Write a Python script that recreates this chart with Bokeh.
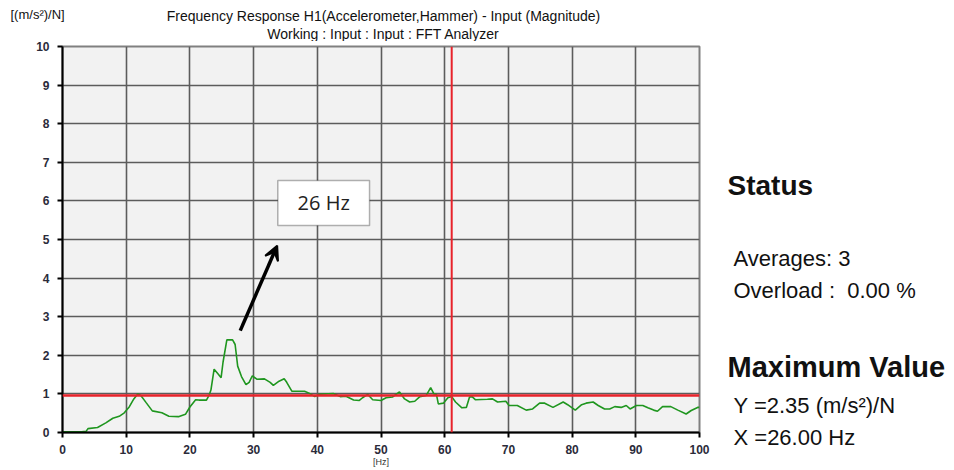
from bokeh.plotting import figure
from bokeh.layouts import column, row
from bokeh.models import Span, Label, Arrow, VeeHead, BoxAnnotation, FixedTicker, Range1d
from bokeh.embed import file_html
from bokeh.resources import INLINE

# ---------------- data ----------------
freq_hz = [0, 1, 2, 3, 3.7, 4.0, 5.5, 6.8, 7.9, 8.9, 9.7, 10.5, 11.2, 11.8, 12.3, 13.1, 14.1,
           15.6, 16.7, 18.2, 19.3, 20.0, 20.9, 21.4, 22.6, 23.0, 23.3, 23.8, 24.4, 24.9, 25.2,
           25.8, 26.7, 27.1, 27.5, 28.1, 28.8, 29.3, 29.8, 30.5, 31.7, 32.6, 33.1, 34.0, 34.8,
           35.2, 36.0, 38.0, 38.7, 39.6, 40.3, 42.5, 43.6, 44.5, 45.7, 46.6, 47.1, 47.9, 48.7,
           50.0, 50.8, 51.8, 52.9, 53.7, 54.5, 55.3, 56.1, 57.1, 57.8, 58.3, 58.7, 59.0, 59.8,
           60.5, 61.1, 61.7, 62.7, 63.4, 63.9, 64.3, 64.8, 66.7, 67.5, 68.3, 69.6, 70.1, 71.4,
           72.8, 73.8, 74.9, 75.7, 77.0, 78.6, 79.3, 80.5, 81.5, 82.2, 83.3, 84.1, 85.1, 85.9,
           86.7, 87.7, 88.5, 89.1, 90.1, 91.1, 91.9, 92.8, 93.4, 94.2, 95.5, 96.6, 97.9, 98.7,
           99.7, 100]
magnitude = [0.02, 0.02, 0.02, 0.02, 0.03, 0.10, 0.13, 0.25, 0.37, 0.42, 0.51, 0.67, 0.87, 1.00,
             0.96, 0.78, 0.56, 0.51, 0.42, 0.41, 0.47, 0.66, 0.85, 0.84, 0.84, 0.96, 1.10, 1.64,
             1.52, 1.42, 1.82, 2.40, 2.40, 2.28, 1.72, 1.45, 1.24, 1.30, 1.47, 1.38, 1.39, 1.30,
             1.22, 1.33, 1.39, 1.30, 1.07, 1.07, 1.02, 0.93, 0.99, 1.01, 0.93, 0.94, 0.84, 0.83,
             0.90, 0.99, 0.85, 0.83, 0.90, 0.92, 1.05, 0.87, 0.79, 0.81, 0.93, 0.96, 1.16, 1.00,
             0.99, 0.74, 0.76, 0.90, 0.93, 0.79, 0.64, 0.65, 0.92, 0.93, 0.85, 0.86, 0.87, 0.79,
             0.81, 0.70, 0.70, 0.58, 0.61, 0.76, 0.76, 0.65, 0.79, 0.72, 0.58, 0.72, 0.76, 0.79,
             0.70, 0.61, 0.61, 0.67, 0.65, 0.70, 0.61, 0.70, 0.70, 0.64, 0.58, 0.55, 0.67, 0.67,
             0.58, 0.48, 0.57, 0.65, 0.65]
x_ticks = [0, 10, 20, 30, 40, 50, 60, 70, 80, 90, 100]
y_ticks = [0, 1, 2, 3, 4, 5, 6, 7, 8, 9, 10]
cursor_x = 61.1
cursor_y = 0.96
peak_freq = 26.00
peak_value = 2.35
averages = 3
overload = 0.00

title_1 = "Frequency Response H1(Accelerometer,Hammer) - Input (Magnitude)"
title_2 = "Working : Input : Input : FFT Analyzer"
y_unit = "[(m/s²)/N]"
x_unit = "[Hz]"

# ---------------- layout geometry (page pixels) ----------------
TOTAL_W, TOTAL_H = 952, 470
HEAD_H = 41
FL, FW, FH, FT = 62, 637, 386, 5
MAIN_W = FL + FW + 14
MAIN_H = TOTAL_H - HEAD_H
SIDE_W = TOTAL_W - MAIN_W


def blank(w, h):
    f = figure(width=w, height=h, x_range=Range1d(0, w), y_range=Range1d(0, h),
               x_axis_type=None, y_axis_type=None, title=None,
               output_backend="svg", toolbar_location=None,
               min_border_left=0, min_border_right=0, min_border_top=0, min_border_bottom=0)
    f.outline_line_color = None
    f.xgrid.visible = False
    f.ygrid.visible = False
    f.background_fill_color = "white"
    f.border_fill_color = "white"
    return f


def txt(text, x, y, size, bold=False, align="left", baseline="middle", color="#111111"):
    return Label(x=x, y=y, text=text, text_align=align, text_baseline=baseline,
                 text_font="Liberation Sans", text_font_size=size,
                 text_font_style="bold" if bold else "normal", text_color=color)


# ---------------- header ----------------
head = blank(TOTAL_W, HEAD_H)
HEAD_SHIFT = 5  # measured offset of the header frame
head.add_layout(txt(title_1, 383, HEAD_H + HEAD_SHIFT - 20, "14px", align="center", baseline="alphabetic"))
head.add_layout(txt(title_2, 383, HEAD_H + HEAD_SHIFT - 38, "14px", align="center", baseline="alphabetic"))
head.add_layout(txt(y_unit, 10, HEAD_H + HEAD_SHIFT - 19, "13px", baseline="alphabetic"))

# ---------------- main chart ----------------
p = figure(width=MAIN_W, height=MAIN_H, x_range=Range1d(0, 100), y_range=Range1d(0, 10),
           title=None, output_backend="svg", toolbar_location=None,
           min_border_left=FL, min_border_right=MAIN_W - FL - FW,
           min_border_top=FT, min_border_bottom=MAIN_H - FT - FH)
p.background_fill_color = "#f2f2f2"
p.border_fill_color = "white"
p.outline_line_color = "#808080"
p.outline_line_width = 2

for ax, ticks in ((p.xaxis, x_ticks), (p.yaxis, y_ticks)):
    ax.ticker = FixedTicker(ticks=ticks)
    ax.axis_line_color = "black"
    ax.axis_line_width = 2
    ax.major_tick_line_color = "black"
    ax.major_tick_line_width = 2
    ax.major_tick_out = 5
    ax.major_tick_in = 0
    ax.minor_tick_line_color = None
    ax.major_label_text_font = "Liberation Sans"
    ax.major_label_text_font_size = "12px"
    ax.major_label_text_font_style = "bold"
    ax.major_label_text_color = "#2b2b3a"
p.xaxis.major_label_standoff = 7
p.yaxis.major_label_standoff = 8
p.xaxis.axis_label = x_unit
p.xaxis.axis_label_text_font = "Liberation Sans"
p.xaxis.axis_label_text_font_size = "9px"
p.xaxis.axis_label_text_font_style = "normal"
p.xaxis.axis_label_text_color = "#333333"
p.xaxis.axis_label_standoff = 0

p.xgrid.ticker = FixedTicker(ticks=x_ticks)
p.ygrid.ticker = FixedTicker(ticks=y_ticks)
for g in (p.xgrid, p.ygrid):
    g.grid_line_color = "#5c5c5c"
    g.grid_line_width = 1.6

p.line(freq_hz, magnitude, line_color="#1f961f", line_width=1.6)

p.add_layout(Span(location=cursor_y, dimension="width", line_color="#e8232b", line_width=2.5))
p.add_layout(Span(location=cursor_x, dimension="height", line_color="#e8232b", line_width=2))

p.add_layout(Arrow(end=VeeHead(size=14, fill_color="black", line_color="black", line_width=2),
                   x_start=27.9, y_start=2.64, x_end=33.7, y_end=4.84,
                   line_color="black", line_width=3.5))
p.add_layout(BoxAnnotation(left=33.8, right=48.2, bottom=5.36, top=6.53,
                           fill_color="white", fill_alpha=1.0,
                           line_color="black", line_width=1.5))
p.add_layout(Label(x=41.0, y=5.95, text=f"{peak_freq:.0f} Hz", text_align="center",
                   text_baseline="middle", text_font="Open Sans",
                   text_font_size="20px", text_color="#222222"))

# ---------------- side panel ----------------
side = blank(SIDE_W, MAIN_H)


def sy(y_page):
    return TOTAL_H - y_page


def sx(x_page):
    return x_page - MAIN_W


side.add_layout(txt("Status", sx(727), sy(185), "28px", bold=True))
side.add_layout(txt(f"Averages: {averages}", sx(733), sy(258), "22px"))
side.add_layout(txt(f"Overload :\u00a0\u00a0{overload:.2f} %", sx(733), sy(290), "22px"))
side.add_layout(txt("Maximum Value", sx(727), sy(366), "29px", bold=True))
side.add_layout(txt(f"Y ={peak_value:.2f} (m/s²)/N", sx(733), sy(405), "22px"))
side.add_layout(txt(f"X ={peak_freq:.2f} Hz", sx(733), sy(437), "22px"))

layout = column(head, row(p, column(side, spacing=0), spacing=0), spacing=0)
open("out.html", "w").write(file_html(layout, INLINE))
